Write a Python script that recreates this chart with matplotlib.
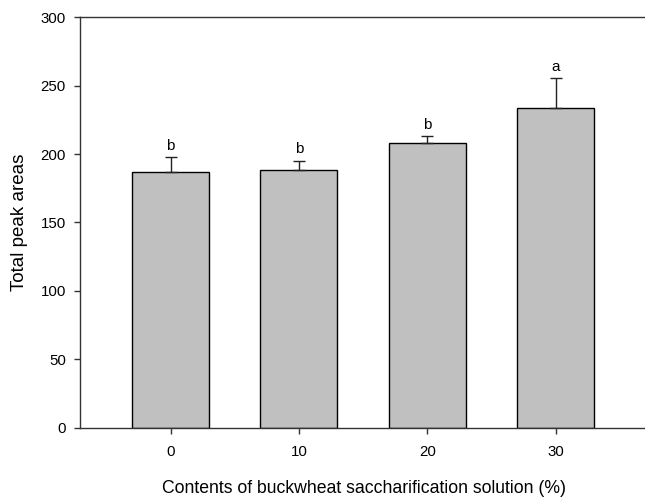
import matplotlib

matplotlib.use("Agg")
import matplotlib.pyplot as plt

plt.rcParams["font.family"] = ["Liberation Sans", "DejaVu Sans"]

# values
contents = [0, 10, 20, 30]
peak_areas = [187.1, 188.6, 207.9, 233.9]
peak_err = [11.0, 6.6, 5.1, 21.5]
groups = ["b", "b", "b", "a"]

fig = plt.figure(figsize=(6.45, 5.0), dpi=100)
# right spine sits just past the image edge, as in the reference
ax = fig.add_axes([79.5 / 645, 1 - 427.7 / 500, 568.5 / 645, 410.4 / 500])

ax.bar(contents, peak_areas, width=6.0, color="#c0c0c0", edgecolor="black",
       linewidth=1.0, zorder=2)
ax.errorbar(contents, peak_areas, yerr=[[0] * len(peak_err), peak_err],
            fmt="none", ecolor="#222222", elinewidth=1.0, capsize=4.3,
            capthick=1.0, zorder=3)
for x, y, e, g in zip(contents, peak_areas, peak_err, groups):
    ax.annotate(g, (x, y + e), xytext=(0, 3), textcoords="offset points",
                ha="center", va="bottom", fontsize=11)

ax.set_xlim(-7.1, 37.2)
ax.set_ylim(0, 300)
ax.set_xticks(contents)
ax.set_yticks(range(0, 301, 50))
ax.tick_params(direction="out", length=4.3, width=1.0, labelsize=10.8,
               color="#333333")
ax.tick_params(axis="x", pad=8.5)
ax.tick_params(axis="y", pad=5.5)
for s in ax.spines.values():
    s.set_linewidth(1.0)
    s.set_color("#333333")

ax.set_xlabel("Contents of buckwheat saccharification solution (%)",
              fontsize=12.7, labelpad=14.5)
ax.set_ylabel("Total peak areas", fontsize=13.5, labelpad=9)

fig.savefig("out.png", dpi=100)
